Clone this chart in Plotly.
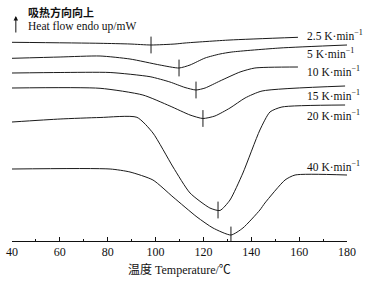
import plotly.graph_objects as go

# Temperature (°C) and heat flow (arbitrary, offset curves) for each heating rate
T_25 = [40, 76.8, 89.3, 98.1, 108.1, 112.3, 131.1, 159.5]
H_25 = [198.7, 197.7, 197, 196, 197, 198, 201, 203.7]

T_5 = [40, 60.1, 76.8, 89.3, 101.8, 109.8, 114.4, 120.7, 126.9, 131.9, 152.0, 180.0]
H_5 = [182.7, 184, 185, 182, 176, 173, 176, 183, 187, 189, 193, 196]

T_10 = [40, 60.1, 81.0, 97.7, 106.0, 112.3, 116.9, 120.7, 126.9, 135.3, 141.5, 159.5]
H_10 = [168, 168.5, 168.5, 164.3, 159, 153.5, 151, 153, 160, 169, 173, 174]

T_15 = [40, 76.8, 94.7, 106.0, 114.4, 119.8, 124.8, 131.1, 137.4, 144.5, 179.2]
H_15 = [153, 152.7, 146, 135, 126, 122.5, 125, 133, 143, 150, 155]

T_20 = [40, 60.1, 76.8, 92.2, 98.9, 107.3, 114.4, 122.7, 126.9, 131.1, 136.5, 143.6, 147.8, 152.8, 179.2]
H_20 = [119, 122, 123.5, 123.7, 108, 74, 48, 33, 30.5, 41, 68, 111, 129, 134, 136]

T_40 = [40, 81.0, 89.3, 98.9, 107.3, 117.3, 124.0, 131.5, 136.5, 143.6, 145.7, 154.1, 158.3, 180]
H_40 = [72, 72, 69, 61, 44, 24, 13, 6, 13, 31, 38, 61, 66, 66]

# peak markers
peak_T = [98.1, 109.8, 116.9, 119.8, 126.1, 131.5]
peak_H = [196, 173, 151, 122.5, 31, 6]

rate_labels = ["2.5", "5", "10", "15", "20", "40"]
label_H = [206, 188, 170, 146, 126, 75]

x_ticks = [40, 60, 80, 100, 120, 140, 160, 180]

LINE = "#1a1a1a"
SERIF = "Liberation Serif, Noto Sans CJK SC"

fig = go.Figure()
for T, H in [(T_25, H_25), (T_5, H_5), (T_10, H_10), (T_15, H_15), (T_20, H_20), (T_40, H_40)]:
    fig.add_trace(go.Scatter(x=T, y=H, mode="lines",
                             line=dict(color=LINE, width=1, shape="spline", smoothing=0.6),
                             showlegend=False, hoverinfo="skip"))

fig.add_trace(go.Scatter(x=peak_T, y=peak_H, mode="markers",
                         marker=dict(symbol="line-ns", size=12, line=dict(color=LINE, width=1)),
                         showlegend=False, hoverinfo="skip"))

annotations = []
for r, h in zip(rate_labels, label_H):
    annotations.append(dict(x=162.6, y=h, xref="x", yref="y", xanchor="left", yanchor="middle",
                            text=f"{r} K·min<sup>−1</sup>", showarrow=False,
                            font=dict(family=SERIF, size=11.5, color="#111")))

annotations.append(dict(x=46.0, y=241 - 12, xref="x", yref="y", xanchor="left", yanchor="middle",
                        text="<b>吸热方向向上</b>", showarrow=False,
                        font=dict(family="Noto Sans CJK SC", size=11, color="#111")))
annotations.append(dict(x=46.0, y=241 - 26, xref="x", yref="y", xanchor="left", yanchor="middle",
                        text="Heat flow endo up/mW", showarrow=False,
                        font=dict(family=SERIF, size=11.5, color="#111")))
annotations.append(dict(x=41.6, y=241 - 16, xref="x", yref="y", ax=0, ay=18,
                        text="", showarrow=True, arrowhead=2, arrowsize=0.9, arrowwidth=1,
                        arrowcolor="#111"))
annotations.append(dict(x=0.5, y=0, xref="paper", yref="paper", xanchor="center", yanchor="middle",
                        yshift=-28, text="温度 Temperature/℃", showarrow=False,
                        font=dict(family=SERIF, size=12, color="#111")))

fig.update_layout(
    width=371, height=285,
    margin=dict(l=12, r=24, t=0, b=44),
    paper_bgcolor="white", plot_bgcolor="white",
    annotations=annotations,
    xaxis=dict(range=[40, 180], tickvals=x_ticks, ticks="inside", ticklen=4, tickwidth=1,
               tickcolor="#111", showline=True, linecolor="#111", linewidth=1,
               showgrid=False, zeroline=False, automargin=False,
               tickfont=dict(family=SERIF, size=12, color="#111"),
               minor=dict(dtick=10, tick0=40, ticks="inside", ticklen=2.5, tickcolor="#111", showgrid=False)),
    yaxis=dict(range=[0, 241], visible=False, showgrid=False, zeroline=False),
)

fig.write_html("out.html", config={"displayModeBar": False},
               post_script="document.body.style.margin='0px';document.body.style.padding='0px';")
